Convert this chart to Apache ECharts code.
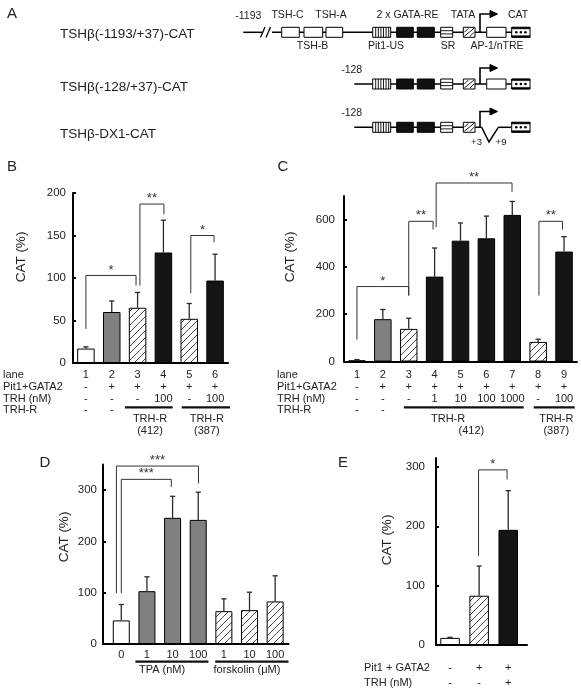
<!DOCTYPE html>
<html><head><meta charset="utf-8">
<script src="https://cdn.jsdelivr.net/npm/echarts@6/dist/echarts.min.js"></script>
<style>html,body{margin:0;padding:0;background:#fff}#c{width:581px;height:690px}</style>
</head><body><div id="c"></div>
<script>
// ---------- DATA ----------
// Panel B
const lanesB = ['1','2','3','4','5','6'];
const valuesB = [17, 60, 65, 130, 52, 97];
const errTopB = [19, 73, 83, 168, 70, 128];
const fillsB = ['white','gray','hatch','black','hatch','black'];
const pitB = ['-','+','+','+','+','+'];
const trhB = ['-','-','-','100','-','100'];
const trhrB = ['-','-'];
const groupsB = [['TRH-R','(412)'],['TRH-R','(387)']];
const ticksB = [0, 50, 100, 150, 200];
// brackets: [xLeft, yLeftBottom, xRight, yRightBottom, yTop]
const sigB = [[0, 40, 1.94, 91, 103], [2.09, 91, 3.02, 175, 187], [4.06, 82, 4.96, 142, 150]];
const starsB = ['*', '**', '*'];

// Panel C
const lanesC = ['1','2','3','4','5','6','7','8','9'];
const valuesC = [5, 179, 138, 359, 511, 521, 620, 83, 465];
const errTopC = [8, 220, 183, 480, 586, 615, 677, 94, 528];
const fillsC = ['white','gray','hatch','black','black','black','black','hatch','black'];
const pitC = ['-','+','+','+','+','+','+','+','+'];
const trhC = ['-','-','-','1','10','100','1000','-','100'];
const trhrC = ['-','-'];
const groupsC = [['TRH-R','(412)'],['TRH-R','(387)']];
const ticksC = [0, 200, 400, 600];
const sigC = [[0, 92, 2.0, 279, 317], [2.0, 279, 2.94, 558, 593], [3.06, 568, 5.99, 718, 755], [7.03, 279, 7.94, 558, 593]];
const starsC = ['*', '**', '**', '**'];

// Panel D
const labelsD = ['0','1','10','100','1','10','100'];
const valuesD = [46, 103, 246, 242, 64, 66, 83];
const errTopD = [77, 131, 288, 296, 88, 101, 133];
const fillsD = ['white','gray','gray','gray','hatch','hatch','hatch'];
const groupsD = ['TPA (nM)', 'forskolin (\u03BCM)'];
const ticksD = [0, 100, 200, 300];
const sigD = [[-0.19, 99, 3.01, 313, 347], [0, 99, 1.95, 306, 321]];
const starsD = ['***', '***'];

// Panel E
const valuesE = [12, 83, 194];
const errTopE = [13, 133, 260];
const fillsE = ['white','hatch','black'];
const pitE = ['-','+','+'];
const trhE = ['-','-','+'];
const ticksE = [0, 100, 200, 300];
const sigE = [[0.98, 150, 1.96, 279, 295]];
const starsE = ['*'];

// ---------- STYLE / LAYOUT ----------
const FONT = '"Liberation Sans", Arial, sans-serif';
const hatch = document.createElement('canvas');
hatch.width = 7; hatch.height = 7;
(function(){
  const g = hatch.getContext('2d');
  g.fillStyle = '#fff'; g.fillRect(0,0,7,7);
  g.strokeStyle = '#333'; g.lineWidth = 0.9;
  g.beginPath();
  g.moveTo(0,7); g.lineTo(7,0);
  g.moveTo(-1,1); g.lineTo(1,-1);
  g.moveTo(6,8); g.lineTo(8,6);
  g.stroke();
})();
const FILL = {
  white: '#ffffff',
  gray: '#808080',
  black: '#151515',
  hatch: {image: hatch, repeat: 'repeat'}
};

const chart = echarts.init(document.getElementById('c'), null, {renderer: 'canvas'});

const grids = [
  {left: 73, top: 193, width: 155, height: 170},
  {left: 344, top: 196, width: 233, height: 165.5},
  {left: 103, top: 464.5, width: 185.5, height: 179.5},
  {left: 436, top: 458, width: 91, height: 187}
];
const xr = [[-0.5, 5.5], [-0.5, 8.5], [-0.713, 6.52], [-0.483, 2.645]];
const yr = [[0, 200, 50, ticksB, 7], [0, 700, 200, ticksC, 9], [0, 350, 100, ticksD, 6], [0, 315, 100, ticksE, 11]];
const barW = [17.5, 17.5, 17, 19.5];

const xAxes = xr.map((r, i) => ({
  gridIndex: i, type: 'value', min: r[0], max: r[1],
  axisLine: {show: true, onZero: false, lineStyle: {color: '#000', width: 2}},
  axisTick: {show: false}, axisLabel: {show: false}, splitLine: {show: false}
}));
const yAxes = yr.map((r, i) => ({
  gridIndex: i, type: 'value', min: r[0], max: r[1], interval: r[2],
  axisLine: {show: true, onZero: false, lineStyle: {color: '#000', width: 2}},
  axisTick: {show: true, inside: true, length: 3, lineStyle: {color: '#000', width: 2}, customValues: r[3]},
  axisLabel: {color: '#222', fontSize: 11.5, fontFamily: FONT, margin: r[4], customValues: r[3],
    formatter: v => (r[3].indexOf(v) >= 0 ? String(v) : '')},
  splitLine: {show: false}
}));

function barSeries(i, vals, fills) {
  return {
    type: 'bar', xAxisIndex: i, yAxisIndex: i, barWidth: barW[i], z: 2,
    data: vals.map((v, k) => ({value: [k, v], itemStyle: {color: FILL[fills[k]]}})),
    itemStyle: {borderColor: '#000', borderWidth: 1}
  };
}
function errSeries(i, vals, tops) {
  return {
    type: 'custom', xAxisIndex: i, yAxisIndex: i, z: 3,
    data: vals.map((v, k) => [k, v, tops[k]]),
    renderItem: (p, api) => {
      const a = api.coord([api.value(0), api.value(1)]);
      const b = api.coord([api.value(0), api.value(2)]);
      return {type: 'group', children: [
        {type: 'line', shape: {x1: a[0], y1: a[1], x2: b[0], y2: b[1]}, style: {stroke: '#2a2a2a', lineWidth: 1.3}},
        {type: 'line', shape: {x1: b[0] - 2.6, y1: b[1], x2: b[0] + 2.6, y2: b[1]}, style: {stroke: '#2a2a2a', lineWidth: 1.3}}
      ]};
    }
  };
}
function sigSeries(i, sig, stars) {
  return {
    type: 'custom', xAxisIndex: i, yAxisIndex: i, z: 4, clip: false,
    data: sig,
    renderItem: (p, api) => {
      const L = api.coord([api.value(0), api.value(1)]);
      const LT = api.coord([api.value(0), api.value(4)]);
      const RT = api.coord([api.value(2), api.value(4)]);
      const R = api.coord([api.value(2), api.value(3)]);
      return {type: 'group', children: [
        {type: 'polyline', shape: {points: [L, LT, RT, R]}, style: {stroke: '#333', fill: null, lineWidth: 1}},
        {type: 'text', x: (LT[0] + RT[0]) / 2, y: LT[1] - 5.5,
          style: {text: stars[p.dataIndex], fill: '#333', fontSize: 13, fontFamily: FONT, align: 'center', verticalAlign: 'middle'}}
      ]};
    }
  };
}

chart.setOption({
  animation: false,
  backgroundColor: '#fff',
  grid: grids,
  xAxis: xAxes,
  yAxis: yAxes,
  series: [
    barSeries(0, valuesB, fillsB), errSeries(0, valuesB, errTopB), sigSeries(0, sigB, starsB),
    barSeries(1, valuesC, fillsC), errSeries(1, valuesC, errTopC), sigSeries(1, sigC, starsC),
    barSeries(2, valuesD, fillsD), errSeries(2, valuesD, errTopD), sigSeries(2, sigD, starsD),
    barSeries(3, valuesE, fillsE), errSeries(3, valuesE, errTopE), sigSeries(3, sigE, starsE)
  ]
});

// ---------- GRAPHIC (diagram, tables, titles) ----------
const el = [];
function txt(x, y, s, o) {
  o = o || {};
  el.push({type: 'text', x: x, y: y, rotation: o.rot || 0, silent: true, z: 10,
    style: {text: s, fill: o.color || '#222', fontSize: o.size || 11, fontFamily: FONT,
      align: o.align || 'center', verticalAlign: o.va || 'middle'}});
}
function ln(x1, y1, x2, y2, w, c) {
  el.push({type: 'line', silent: true, z: 10, shape: {x1: x1, y1: y1, x2: x2, y2: y2},
    style: {stroke: c || '#000', lineWidth: w || 1}});
}
function rc(x, y, w, h, fill, lw) {
  el.push({type: 'rect', silent: true, z: 11, shape: {x: x, y: y, width: w, height: h},
    style: {fill: fill, stroke: '#000', lineWidth: lw || 1}});
}
function pl(pts, w, fill) {
  el.push({type: fill ? 'polygon' : 'polyline', silent: true, z: 12, shape: {points: pts},
    style: {stroke: '#000', fill: fill || null, lineWidth: w || 1}});
}
const X = (ax, v) => chart.convertToPixel({xAxisIndex: ax}, v);

// Panel letters
txt(12, 14, 'A', {size: 15});
txt(12, 167, 'B', {size: 15});
txt(283, 167, 'C', {size: 15});
txt(45, 463, 'D', {size: 15});
txt(343, 463, 'E', {size: 15});

// Y axis titles
txt(21.7, 257, 'CAT (%)', {size: 13.5, rot: Math.PI / 2});
txt(290, 257, 'CAT (%)', {size: 13.5, rot: Math.PI / 2});
txt(64, 537, 'CAT (%)', {size: 13.5, rot: Math.PI / 2});
txt(387.5, 540, 'CAT (%)', {size: 13.5, rot: Math.PI / 2});

// ---- Panel A diagram ----
txt(60, 34, 'TSH\u03B2(-1193/+37)-CAT', {size: 13.5, align: 'left'});
txt(60, 87, 'TSH\u03B2(-128/+37)-CAT', {size: 13.5, align: 'left'});
txt(60, 134, 'TSH\u03B2-DX1-CAT', {size: 13.5, align: 'left'});
const rows = [32.3, 84, 127.3];
const BH = 10;
// lines
ln(243.3, rows[0], 262, rows[0], 1.5); ln(272, rows[0], 512, rows[0], 1.5);
ln(260.5, 37.5, 265, 27, 1.3); ln(266, 37.5, 270.5, 27, 1.3);
ln(354.3, rows[1], 511, rows[1], 1.5);
ln(354.3, rows[2], 481.7, rows[2], 1.5);
pl([[481.7, rows[2]], [489, 142], [498.3, rows[2]]], 1.5);
ln(498.3, rows[2], 511, rows[2], 1.5);
function box(x0, x1, y, kind) {
  const t = y - BH / 2, b = y + BH / 2, w = x1 - x0;
  if (kind === 'black') { rc(x0, t, w, BH, '#111'); return; }
  rc(x0, t, w, BH, '#fff');
  const L = (a, bb, c, d) => el.push({type: 'line', silent: true, z: 12, shape: {x1: a, y1: bb, x2: c, y2: d}, style: {stroke: '#000', lineWidth: 0.9}});
  if (kind === 'v') { for (let xx = x0 + 3; xx < x1 - 1; xx += 2.6) L(xx, t, xx, b); }
  if (kind === 'h') { L(x0, y - 1.6, x1, y - 1.6); L(x0, y + 1.6, x1, y + 1.6); }
  if (kind === 'd') { L(x0 + 1, b - 1, x1 - 1, t + 1); L(x0 + 1, t + 5, x0 + 5, t + 1); L(x1 - 5, b - 1, x1 - 1, b - 5); }
  if (kind === 'dots') {
    for (let k = 0; k < 3; k++) el.push({type: 'circle', silent: true, z: 12, shape: {cx: x0 + w * (k + 1) / 4, cy: y, r: 1.3}, style: {fill: '#000'}});
    rc(x0, t, w, 1.6, '#000', 0.5); rc(x0, b - 1.6, w, 1.6, '#000', 0.5);
  }
}
const boxes1 = [[281.7, 299.3, 'p'], [304, 322.7, 'p'], [326, 342.7, 'p']];
const core = [[372.7, 390.7, 'v'], [396.7, 413.3, 'black'], [417.3, 434.3, 'black'], [440.7, 452.7, 'h'], [463.3, 475, 'd']];
boxes1.concat(core).forEach(b => box(b[0], b[1], rows[0], b[2]));
core.forEach(b => box(b[0], b[1], rows[1], b[2]));
core.forEach(b => box(b[0], b[1], rows[2], b[2]));
box(486.7, 506, rows[0], 'p'); box(486.7, 506, rows[1], 'p');
box(511.7, 530, rows[0], 'dots'); box(511.7, 530, rows[1], 'dots'); box(511.7, 530, rows[2], 'dots');
// arrows
[[rows[0], 14], [rows[1], 68], [rows[2], 111.5]].forEach(a => {
  pl([[480, a[0]], [480, a[1]], [491, a[1]]], 1.6);
  pl([[490, a[1] - 3.5], [497.5, a[1]], [490, a[1] + 3.5]], 1, '#000');
});
// labels
const fs = 10.5;
txt(248.3, 16.5, '-1193', {size: fs});
txt(287.5, 15, 'TSH-C', {size: fs});
txt(331, 15, 'TSH-A', {size: fs});
txt(407.5, 15, '2 x GATA-RE', {size: fs});
txt(463, 15, 'TATA', {size: fs});
txt(518, 15, 'CAT', {size: fs});
txt(312.5, 46, 'TSH-B', {size: fs});
txt(386, 46, 'Pit1-US', {size: fs});
txt(448, 46, 'SR', {size: fs});
txt(497, 46, 'AP-1/nTRE', {size: fs});
txt(351.7, 70, '-128', {size: fs});
txt(351.7, 113.3, '-128', {size: fs});
txt(476.5, 142, '+3', {size: 9.5});
txt(501, 142, '+9', {size: 9.5});

// ---- Tables B and C ----
const tY = {lane: 375, pit: 387.3, trh: 399.3, trhr: 410, under: 407.3, g1: 418.5, g2: 431};
const layoutB = {ax: 0, hx: 3, under: [[1.51, 3.36], [3.71, 5.58]], lx: [2.48, 4.68], sx: [2.48, 4.68]};
const layoutC = {ax: 1, hx: 277, under: [[1.81, 6.44], [6.83, 8.41]], lx: [3.52, 7.7], sx: [4.42, 7.7]};
function table(L, lanes, pit, trh, trhr, groups) {
  txt(L.hx, tY.lane, 'lane', {align: 'left'});
  txt(L.hx, tY.pit, 'Pit1+GATA2', {align: 'left'});
  txt(L.hx, tY.trh, 'TRH (nM)', {align: 'left'});
  txt(L.hx, tY.trhr, 'TRH-R', {align: 'left'});
  lanes.forEach((s, k) => txt(X(L.ax, k), tY.lane, s));
  pit.forEach((s, k) => txt(X(L.ax, k), tY.pit, s));
  trh.forEach((s, k) => txt(X(L.ax, k), tY.trh, s));
  trhr.forEach((s, k) => txt(X(L.ax, k), tY.trhr, s));
  groups.forEach((g, k) => {
    ln(X(L.ax, L.under[k][0]), tY.under, X(L.ax, L.under[k][1]), tY.under, 2.2, '#111');
    txt(X(L.ax, L.lx[k]), tY.g1, g[0]);
    txt(X(L.ax, L.sx[k]), tY.g2, g[1]);
  });
}
table(layoutB, lanesB, pitB, trhB, trhrB, groupsB);
table(layoutC, lanesC, pitC, trhC, trhrC, groupsC);

// ---- Panel D x labels ----
labelsD.forEach((s, k) => txt(X(2, k), 655, s));
const underD = [[0.55, 3.4], [3.66, 6.52]];
const lxD = [1.59, 4.9];
groupsD.forEach((g, k) => {
  ln(X(2, underD[k][0]), 661.7, X(2, underD[k][1]), 661.7, 2.2, '#111');
  txt(X(2, lxD[k]), 669.5, g);
});

// ---- Panel E table ----
txt(364, 668, 'Pit1 + GATA2', {align: 'left'});
txt(364, 682.7, 'TRH (nM)', {align: 'left'});
pitE.forEach((s, k) => txt(X(3, k), 668, s));
trhE.forEach((s, k) => txt(X(3, k), 682.7, s));

chart.setOption({graphic: {elements: el}});
</script></body></html>
